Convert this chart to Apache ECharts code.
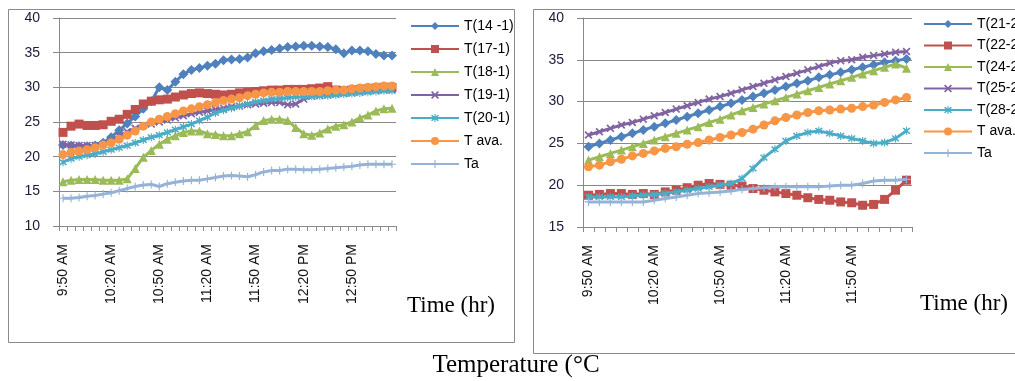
<!DOCTYPE html>
<html>
<head>
<meta charset="utf-8">
<script src="https://cdn.jsdelivr.net/npm/echarts@6/dist/echarts.min.js"></script>
<style>html,body{margin:0;padding:0;background:#fff}#c{width:1015px;height:381px}</style>
</head>
<body>
<div id="c"></div>
<script>
// ---------- data ----------
const timesLeft = ['9:50 AM','9:55 AM','10:00 AM','10:05 AM','10:10 AM','10:15 AM','10:20 AM','10:25 AM','10:30 AM','10:35 AM','10:40 AM','10:45 AM','10:50 AM','10:55 AM','11:00 AM','11:05 AM','11:10 AM','11:15 AM','11:20 AM','11:25 AM','11:30 AM','11:35 AM','11:40 AM','11:45 AM','11:50 AM','11:55 AM','12:00 PM','12:05 PM','12:10 PM','12:15 PM','12:20 PM','12:25 PM','12:30 PM','12:35 PM','12:40 PM','12:45 PM','12:50 PM','12:55 PM','1:00 PM','1:05 PM','1:10 PM','1:15 PM'];
const timesRight = ['9:50 AM','9:55 AM','10:00 AM','10:05 AM','10:10 AM','10:15 AM','10:20 AM','10:25 AM','10:30 AM','10:35 AM','10:40 AM','10:45 AM','10:50 AM','10:55 AM','11:00 AM','11:05 AM','11:10 AM','11:15 AM','11:20 AM','11:25 AM','11:30 AM','11:35 AM','11:40 AM','11:45 AM','11:50 AM','11:55 AM','12:00 PM','12:05 PM','12:10 PM','12:15 PM'];

const namesLeft = ['T(14 -1)','T(17-1)','T(18-1)','T(19-1)','T(20-1)','T ava.','Ta'];
const namesRight = ['T(21-2','T(22-2','T(24-2','T(25-2','T(28-2','T ava.','Ta'];

// left panel series
const t14_1 = [21.7,21.6,21.5,21.5,21.6,22.0,22.8,23.8,24.8,25.8,26.9,28.0,30.0,29.6,30.8,31.9,32.5,32.8,33.1,33.4,33.9,34.0,34.1,34.3,34.9,35.2,35.4,35.6,35.8,35.9,36.0,36.0,35.9,35.8,35.5,34.9,35.3,35.3,35.2,34.8,34.6,34.6];
const t17_1 = [23.5,24.4,24.7,24.5,24.5,24.6,25.1,25.4,26.1,26.8,27.6,28.0,28.2,28.3,28.6,28.9,29.1,29.2,29.1,29.0,28.9,29.0,29.2,29.3,29.4,29.5,29.6,29.6,29.7,29.7,29.7,29.8,29.9,30.1,29.6,29.5,29.6,29.7,29.8,29.9,30.0,30.0];
const t18_1 = [16.4,16.6,16.7,16.7,16.7,16.6,16.6,16.6,16.8,18.3,19.9,20.9,21.8,22.5,23.0,23.5,23.7,23.7,23.3,23.2,23.0,23.0,23.3,23.6,24.5,25.2,25.4,25.4,25.2,24.2,23.3,23.1,23.4,24.0,24.4,24.6,25.0,25.6,26.0,26.6,26.9,27.0];
const t19_1 = [21.8,21.7,21.6,21.6,21.6,21.8,22.3,23.0,23.6,24.1,24.5,24.7,25.0,25.3,25.6,25.9,26.2,26.4,26.6,26.8,27.0,27.2,27.3,27.5,27.6,27.7,27.8,27.8,27.5,27.6,28.3,28.7,28.8,28.9,29.0,29.1,29.2,29.3,29.4,29.5,29.6,29.7];
const t20_1 = [19.2,19.7,20.0,20.2,20.4,20.7,21.0,21.3,21.6,22.0,22.4,22.8,23.1,23.5,23.9,24.3,24.7,25.2,25.7,26.3,26.7,27.0,27.3,27.6,27.9,28.1,28.3,28.4,28.5,28.6,28.6,28.7,28.8,28.8,28.9,29.0,29.1,29.2,29.3,29.4,29.5,29.5];
const tAvaLeft = [20.3,20.6,20.8,21.0,21.3,21.7,22.0,22.5,23.1,23.7,24.4,25.0,25.4,25.8,26.2,26.6,26.9,27.2,27.5,27.8,28.1,28.3,28.5,28.8,29.0,29.2,29.3,29.3,29.4,29.4,29.4,29.4,29.4,29.5,29.6,29.6,29.8,29.9,30.0,30.1,30.2,30.2];
const taLeft = [14.0,14.0,14.1,14.3,14.4,14.6,14.8,15.1,15.4,15.7,15.9,16.0,15.7,16.1,16.3,16.5,16.6,16.6,16.8,17.0,17.2,17.3,17.2,17.1,17.4,17.8,18.0,18.0,18.2,18.2,18.1,18.1,18.2,18.3,18.4,18.5,18.6,18.8,18.9,18.9,18.9,18.9];

// right panel series
const t21_2 = [24.6,25.0,25.4,25.8,26.2,26.6,27.0,27.4,27.8,28.2,28.6,29.0,29.4,29.8,30.2,30.6,31.0,31.4,31.8,32.2,32.5,32.9,33.2,33.5,33.8,34.1,34.4,34.7,34.9,35.1];
const t22_2 = [18.8,18.9,19.0,19.0,18.9,19.0,18.9,19.2,19.4,19.7,20.0,20.2,20.1,20.0,19.9,19.6,19.4,19.2,19.0,18.8,18.5,18.3,18.2,18.0,17.9,17.6,17.7,18.3,19.4,20.6];
const t24_2 = [23.0,23.4,23.8,24.2,24.6,25.0,25.4,25.8,26.2,26.6,27.0,27.5,27.9,28.4,28.9,29.3,29.7,30.1,30.5,30.9,31.3,31.7,32.1,32.5,32.9,33.3,33.7,34.1,34.5,34.0];
const t25_2 = [26.0,26.4,26.8,27.2,27.5,27.9,28.3,28.7,29.1,29.5,29.9,30.3,30.6,31.0,31.4,31.8,32.2,32.6,33.0,33.4,33.8,34.2,34.6,34.9,35.0,35.3,35.5,35.7,35.9,36.0];
const t28_2 = [18.6,18.6,18.6,18.6,18.7,18.8,18.9,19.0,19.2,19.4,19.6,19.8,20.0,20.2,20.8,22.0,23.3,24.3,25.3,25.9,26.3,26.5,26.2,25.9,25.6,25.3,25.0,25.1,25.6,26.5];
const tAvaRight = [22.2,22.4,22.8,23.1,23.5,23.8,24.1,24.4,24.6,24.9,25.1,25.4,25.7,26.0,26.3,26.7,27.2,27.7,28.1,28.4,28.7,28.9,29.0,29.1,29.2,29.4,29.6,29.9,30.2,30.5];
const taRight = [18.0,18.0,18.0,18.0,18.0,18.0,18.2,18.4,18.6,18.8,19.0,19.1,19.2,19.3,19.5,19.6,19.7,19.8,19.8,19.8,19.8,19.8,19.9,20.0,20.0,20.2,20.5,20.6,20.6,20.7];

// ---------- styles ----------
const colors = ['#4F81BD','#C0504D','#9BBB59','#8064A2','#4BACC6','#F79646','#95B3D7'];
const X_PATH = 'path://M0,1.5L1.5,0L5,3.5L8.5,0L10,1.5L6.5,5L10,8.5L8.5,10L5,6.5L1.5,10L0,8.5L3.5,5Z';
const STAR_PATH = 'path://M0,1.5L1.5,0L5,3.5L8.5,0L10,1.5L6.5,5L10,8.5L8.5,10L5,6.5L1.5,10L0,8.5L3.5,5Z M4.3,-1L5.7,-1L5.7,11L4.3,11Z';
const PLUS_PATH = 'path://M4.3,0L5.7,0L5.7,4.3L10,4.3L10,5.7L5.7,5.7L5.7,10L4.3,10L4.3,5.7L0,5.7L0,4.3L4.3,4.3Z';
const symbols = ['diamond','rect','triangle',X_PATH,STAR_PATH,'circle',PLUS_PATH];
const symSizes = [10,9,9,8,8,9,8];

const gridColor = '#898989';
const font = 'Liberation Sans, Arial, sans-serif';

function mkSeries(names, datas, idx) {
  return names.map((n, k) => ({
    name: n, type: 'line', xAxisIndex: idx, yAxisIndex: idx,
    data: datas[k], symbol: symbols[k], symbolSize: symSizes[k],
    showSymbol: true, showAllSymbol: true,
    color: colors[k],
    lineStyle: { width: 3, color: colors[k] },
    itemStyle: { color: colors[k], borderWidth: 0 },
    z: 2 + k, animation: false
  }));
}

function xAxis(idx, cats) {
  return {
    type: 'category', gridIndex: idx, data: cats, boundaryGap: true,
    axisLine: { lineStyle: { color: gridColor, width: 1 } },
    axisTick: { show: true, interval: 0, length: 5, lineStyle: { color: gridColor } },
    axisLabel: { interval: 5, rotate: 90, margin: 18, fontSize: 14, color: '#111', fontFamily: font },
    splitLine: { show: false }
  };
}
function yAxis(idx, mn) {
  return {
    type: 'value', gridIndex: idx, min: mn, max: 40, interval: 5,
    axisLine: { show: true, lineStyle: { color: gridColor, width: 1 } },
    axisTick: { show: true, length: 6, lineStyle: { color: gridColor } },
    axisLabel: { margin: 19, fontSize: 14, color: '#1a1a3a', fontFamily: font },
    splitLine: { show: true, lineStyle: { color: gridColor, width: 1 } }
  };
}
function legend(left, top, names, gap) {
  return {
    orient: 'vertical', left: left, top: top, data: names,
    itemWidth: 48, itemHeight: 10, itemGap: gap, selectedMode: false,
    textStyle: { fontSize: 14, color: '#000', fontFamily: font, lineHeight: 14 }
  };
}

const chart = echarts.init(document.getElementById('c'), null, { renderer: 'canvas' });
chart.setOption({
  animation: false,
  backgroundColor: '#fff',
  grid: [
    { left: 59, top: 18, width: 337, height: 208 },
    { left: 583, top: 18, width: 329, height: 209 }
  ],
  xAxis: [xAxis(0, timesLeft), xAxis(1, timesRight)],
  yAxis: [yAxis(0, 10), yAxis(1, 15)],
  legend: [legend(405, 14, namesLeft, 9), legend(918, 12, namesRight, 7.5)],
  series: mkSeries(namesLeft, [t14_1, t17_1, t18_1, t19_1, t20_1, tAvaLeft, taLeft], 0)
    .concat(mkSeries(namesRight, [t21_2, t22_2, t24_2, t25_2, t28_2, tAvaRight, taRight], 1)),
  graphic: [
    { type: 'rect', shape: { x: 8.5, y: 9.5, width: 506, height: 333 }, style: { fill: 'none', stroke: '#8a8a8a', lineWidth: 1 }, z: -1 },
    { type: 'rect', shape: { x: 533.5, y: 9.5, width: 500, height: 344 }, style: { fill: 'none', stroke: '#8a8a8a', lineWidth: 1 }, z: -1 },
    { type: 'text', style: { x: 451, y: 306, text: 'Time (hr)', textAlign: 'center', textVerticalAlign: 'middle', font: '23px "Liberation Serif", "Times New Roman", serif', fill: '#000' } },
    { type: 'text', style: { x: 964, y: 304, text: 'Time (hr)', textAlign: 'center', textVerticalAlign: 'middle', font: '23px "Liberation Serif", "Times New Roman", serif', fill: '#000' } },
    { type: 'text', style: { x: 516, y: 365, text: 'Temperature (°C', textAlign: 'center', textVerticalAlign: 'middle', font: '25px "Liberation Serif", "Times New Roman", serif', fill: '#000' } }
  ]
});
</script>
</body>
</html>
